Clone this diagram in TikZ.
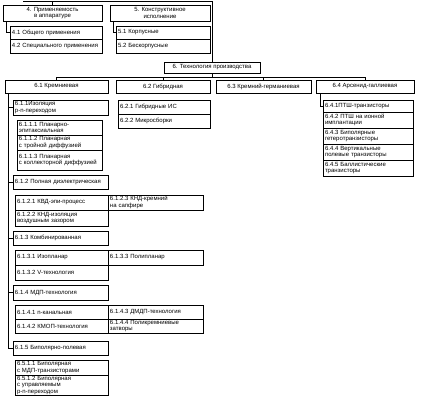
\documentclass[tikz,border=0pt]{standalone}
\usepackage{fontspec}
\setmainfont{Liberation Sans}
\usetikzlibrary{positioning}
\newcommand{\tf}{\fontsize{6}{6.6}\selectfont}
\tikzset{
  hbox/.style={draw,line width=0.9pt,align=center,inner sep=1pt,outer sep=0pt,font=\tf,minimum width=#1},
  ibox/.style={draw,line width=0.6pt,align=left,inner xsep=2pt,inner ysep=1pt,outer sep=0pt,font=\tf,text width=#1},
  sbox/.style={ibox=#1,line width=0.9pt},
  ln/.style={line width=0.7pt},
}
\begin{document}
\begin{tikzpicture}[x=1pt,y=-1pt]
\useasboundingbox (0,0) rectangle (424,400);
% 4 and 5
\node[hbox=99pt,minimum height=16pt,anchor=north west] (n4) at (3,5) {4. Применяемость\\в аппаратуре};
\node[ibox=88pt,minimum height=13pt,anchor=north west] (n41) at (10,26) {4.1 Общего применения};
\node[ibox=88pt,minimum height=14pt,below=0pt of n41] (n42) {4.2 Специального применения};
\node[hbox=100pt,minimum height=16pt,anchor=north west] (n5) at (110,5) {5. Конструктивное\\исполнение};
\node[ibox=90pt,minimum height=13pt,anchor=north west] (n51) at (116,26) {5.1 Корпусные};
\node[ibox=90pt,minimum height=14pt,below=0pt of n51] (n52) {5.2 Бескорпусные};
% 6
\node[hbox=96pt,minimum height=11pt,anchor=north west] (n6) at (164,62) {6. Технология производства};
\node[hbox=103pt,minimum height=13pt,anchor=north west] (n61) at (5,80) {6.1 Кремниевая};
\node[hbox=94pt,minimum height=13pt,anchor=north west] (n62) at (116,80) {6.2 Гибридная};
\node[hbox=95pt,minimum height=13pt,anchor=north west] (n63) at (216,80) {6.3 Кремний-германиевая};
\node[hbox=98pt,minimum height=13pt,anchor=north west] (n64) at (316,80) {6.4 Арсенид-галлиевая};
% 6.2
\node[ibox=88pt,minimum height=14pt,anchor=north west] (n621) at (118,100) {6.2.1 Гибридные ИС};
\node[ibox=88pt,minimum height=14pt,below=0pt of n621] (n622) {6.2.2 Микросборки};
% 6.4
\node[ibox=86pt,minimum height=12pt,anchor=north west] (n641) at (323,100) {6.4.1ПТШ-транзисторы};
\node[ibox=86pt,minimum height=16pt,below=0pt of n641] (n642) {6.4.2 ПТШ на ионной\\имплантации};
\node[ibox=86pt,minimum height=16pt,below=0pt of n642] (n643) {6.4.3 Биполярные\\гетеротранзисторы};
\node[ibox=86pt,minimum height=16pt,below=0pt of n643] (n644) {6.4.4 Вертикальные\\полевые транзисторы};
\node[ibox=86pt,minimum height=16pt,below=0pt of n644] (n645) {6.4.5 Баллистические\\транзисторы};
% 6.1.1
\node[sbox=91pt,minimum height=15pt,anchor=north west] (n611) at (13,100) {6.1.1Изоляция\\p-n-переходом};
\node[ibox=81pt,minimum height=15pt,anchor=north west] (n6111) at (17,120) {6.1.1.1 Планарно-\\эпитаксиальная};
\node[ibox=81pt,minimum height=15pt,below=0pt of n6111] (n6112) {6.1.1.2 Планарная\\с тройной диффузией};
\node[ibox=81pt,minimum height=20pt,below=0pt of n6112] (n6113) {6.1.1.3 Планарная\\с коллекторной диффузией};
% 6.1.2
\node[sbox=91pt,minimum height=14pt,anchor=north west] (n612) at (13,175) {6.1.2 Полная диэлектрическая};
\node[ibox=89pt,minimum height=15pt,anchor=north west] (n6121) at (15,195) {6.1.2.1 КВД-эпи-процесс};
\node[ibox=89pt,minimum height=16pt,below=0pt of n6121] (n6122) {6.1.2.2 КНД-изоляция\\воздушным зазором};
\node[ibox=91pt,minimum height=15pt,anchor=north west] (n6123) at (n6121.north east) {6.1.2.3 КНД-кремний\\на сапфире};
% 6.1.3
\node[sbox=91pt,minimum height=14pt,anchor=north west] (n613) at (13,231) {6.1.3 Комбинированная};
\node[ibox=89pt,minimum height=15pt,anchor=north west] (n6131) at (15,250) {6.1.3.1 Изопланар};
\node[ibox=89pt,minimum height=15pt,below=0pt of n6131] (n6132) {6.1.3.2 V-технология};
\node[ibox=91pt,minimum height=15pt,anchor=north west] (n6133) at (n6131.north east) {6.1.3.3 Полипланар};
% 6.1.4
\node[sbox=91pt,minimum height=15pt,anchor=north west] (n614) at (13,285) {6.1.4 МДП-технология};
\node[ibox=89pt,minimum height=14pt,anchor=north west] (n6141) at (15,305) {6.1.4.1 n-канальная};
\node[ibox=89pt,minimum height=14pt,below=0pt of n6141] (n6142) {6.1.4.2 КМОП-технология};
\node[ibox=91pt,minimum height=14pt,anchor=north west] (n6143) at (n6141.north east) {6.1.4.3 ДМДП-технология};
\node[ibox=91pt,minimum height=14pt,below=0pt of n6143] (n6144) {6.1.4.4 Поликремниевые\\затворы};
% 6.1.5
\node[sbox=91pt,minimum height=14pt,anchor=north west] (n615) at (13,341) {6.1.5 Биполярно-полевая};
\node[ibox=89pt,minimum height=15pt,anchor=north west] (n6151) at (15,360) {6.5.1.1 Биполярная\\с МДП-транзисторами};
\node[ibox=89pt,minimum height=20pt,below=0pt of n6151] (n6152) {6.5.1.2 Биполярная\\с управляемым\\p-n-переходом};
% connectors
\coordinate (top) at (23,1);
\coordinate (bus) at (0,77);
\draw[ln] (top) -- (n6.north |- top) -- (n6.north);
\draw[ln] (n4.north) -- (n4.north |- top);
\draw[ln] ([xshift=3pt]n4.south west) |- (n41.west);
\draw[ln] ([xshift=3pt]n5.south west) |- (n51.west);
\draw[ln] (n6.south) -- (n6.south |- bus);
\draw[ln] (n61.north |- bus) -- (n64.north |- bus);
\foreach \n in {n61,n62,n63,n64} \draw[ln] (\n.north |- bus) -- (\n.north);
\foreach \n in {n611,n612,n613,n614,n615} \draw[ln] ([xshift=3pt]n61.south west) |- (\n.west);
\draw[ln] ([xshift=4pt]n64.south west) |- (n641.west);
\end{tikzpicture}
\end{document}
